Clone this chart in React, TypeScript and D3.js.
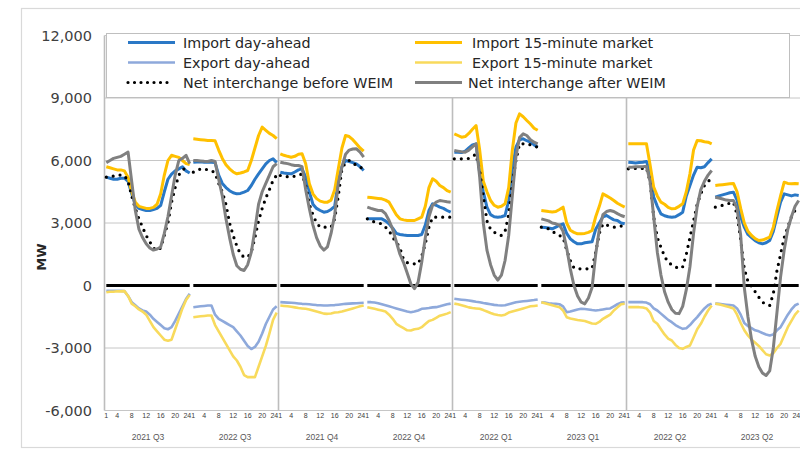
import React from "react";
import * as d3 from "d3";

const quarters = ["2021 Q3", "2022 Q3", "2021 Q4", "2022 Q4", "2022 Q1", "2023 Q1", "2022 Q2", "2023 Q2"];
const hours = [1, 2, 3, 4, 5, 6, 7, 8, 9, 10, 11, 12, 13, 14, 15, 16, 17, 18, 19, 20, 21, 22, 23, 24];
const hourTicks = [1, 4, 8, 12, 16, 20, 24];
const yTicks = [-6000, -3000, 0, 3000, 6000, 9000, 12000];

const importDA = [
  [5200, 5150, 5100, 5100, 5150, 5150, 5000, 4400, 3900, 3700, 3650, 3600, 3600, 3650, 3700, 3850, 4500, 5100, 5350, 5500, 5600, 5700, 5500, 5400],
  [5920, 5930, 5940, 5920, 5920, 5920, 5900, 5300, 4900, 4700, 4550, 4450, 4400, 4420, 4480, 4560, 4800, 5100, 5360, 5600, 5840, 6000, 6080, 5900],
  [5440, 5400, 5380, 5360, 5450, 5550, 5600, 5200, 4500, 3900, 3700, 3600, 3520, 3550, 3650, 3800, 5000, 5700, 6000, 5950, 5900, 5840, 5700, 5520],
  [3200, 3200, 3200, 3200, 3200, 3100, 2960, 2750, 2500, 2450, 2420, 2400, 2400, 2400, 2400, 2450, 2900, 3600, 3920, 3850, 3760, 3700, 3600, 3520],
  [6400, 6400, 6380, 6450, 6600, 6750, 6800, 5400, 4500, 3760, 3400, 3300, 3280, 3300, 3360, 4080, 5600, 6640, 7000, 7040, 6950, 6880, 6750, 6640],
  [2800, 2780, 2760, 2720, 2800, 2900, 2960, 2500, 2240, 2100, 2000, 2000, 2050, 2080, 2100, 2700, 3000, 3300, 3360, 3250, 3150, 3120, 3000, 2960],
  [5920, 5900, 5880, 5900, 5920, 5950, 5500, 4240, 3800, 3440, 3350, 3300, 3280, 3300, 3400, 3520, 4300, 4800, 5300, 5680, 5650, 5700, 5900, 6080],
  [4240, 4300, 4350, 4400, 4450, 4480, 4100, 3300, 2800, 2450, 2300, 2150, 2050, 2000, 2050, 2160, 2600, 3300, 4000, 4400, 4350, 4300, 4350, 4320],
];

const import15 = [
  [5700, 5650, 5600, 5550, 5550, 5500, 5200, 4500, 4000, 3800, 3750, 3700, 3700, 3750, 3900, 4400, 5300, 6000, 6250, 6200, 6150, 6000, 5850, 5800],
  [7040, 7020, 7000, 6980, 6960, 6960, 6950, 6500, 6100, 5800, 5600, 5450, 5360, 5400, 5450, 5520, 6000, 6600, 7200, 7600, 7450, 7300, 7200, 7050],
  [6320, 6250, 6200, 6160, 6200, 6300, 6320, 5840, 4900, 4400, 4170, 4050, 4000, 4000, 4100, 4600, 5600, 6600, 7200, 7150, 7000, 6800, 6600, 6450],
  [4240, 4220, 4200, 4180, 4160, 4100, 4000, 3700, 3400, 3200, 3150, 3120, 3120, 3120, 3200, 3280, 3800, 4700, 5120, 5000, 4800, 4700, 4550, 4480],
  [7280, 7200, 7120, 7150, 7300, 7500, 7680, 6500, 5000, 4500, 4080, 3850, 3760, 3800, 3920, 4700, 6500, 7800, 8240, 8100, 7920, 7750, 7550, 7450],
  [3600, 3580, 3550, 3530, 3550, 3650, 3760, 3000, 2650, 2550, 2480, 2480, 2500, 2550, 2640, 3300, 3800, 4400, 4300, 4200, 4080, 3950, 3850, 3760],
  [6800, 6800, 6800, 6800, 6800, 6800, 5800, 4720, 4300, 4000, 3900, 3750, 3680, 3700, 3800, 3920, 4500, 5360, 6500, 6960, 6950, 6900, 6880, 6800],
  [4800, 4820, 4840, 4860, 4880, 4900, 4500, 3700, 3000, 2600, 2400, 2250, 2160, 2180, 2250, 2320, 2800, 3600, 4300, 4960, 4900, 4880, 4900, 4880],
];

const exportDA = [
  [-250, -250, -250, -250, -260, -270, -500, -800, -950, -1100, -1200, -1250, -1400, -1600, -1750, -1900, -2050, -2100, -2000, -1700, -1350, -1000, -650, -400],
  [-1040, -1020, -1000, -980, -960, -960, -1400, -1600, -1700, -1800, -1900, -2000, -2200, -2400, -2650, -2900, -3050, -2950, -2700, -2300, -1850, -1500, -1150, -1000],
  [-800, -810, -820, -830, -840, -860, -880, -890, -900, -920, -940, -950, -960, -960, -950, -940, -920, -900, -880, -870, -860, -850, -840, -830],
  [-800, -800, -820, -850, -900, -950, -1000, -1050, -1100, -1150, -1200, -1250, -1280, -1250, -1200, -1120, -1100, -1080, -1050, -1040, -1000, -950, -900, -870],
  [-640, -660, -680, -700, -720, -750, -780, -800, -840, -870, -900, -930, -950, -960, -950, -900, -850, -800, -780, -760, -740, -720, -700, -670],
  [-800, -820, -850, -870, -880, -900, -1000, -1280, -1250, -1200, -1150, -1120, -1130, -1150, -1180, -1200, -1180, -1150, -1120, -1100, -1000, -900, -820, -800],
  [-800, -800, -800, -800, -800, -820, -900, -1100, -1200, -1350, -1500, -1650, -1760, -1900, -2000, -2080, -2050, -1900, -1700, -1520, -1300, -1100, -950, -870],
  [-870, -880, -900, -920, -940, -960, -1100, -1400, -1800, -1950, -2050, -2150, -2200, -2280, -2350, -2400, -2350, -2150, -2000, -1700, -1400, -1150, -950, -870],
];

const export15 = [
  [-320, -300, -300, -280, -280, -270, -500, -870, -1000, -1150, -1250, -1400, -1700, -2000, -2200, -2400, -2600, -2650, -2600, -2100, -1600, -1100, -700, -450],
  [-1520, -1500, -1480, -1460, -1440, -1440, -1900, -2200, -2500, -2800, -3100, -3400, -3600, -3900, -4300, -4400, -4400, -4400, -3900, -3400, -2900, -2300, -1650, -1300],
  [-960, -980, -1000, -1020, -1050, -1080, -1100, -1120, -1150, -1200, -1250, -1300, -1350, -1360, -1340, -1300, -1280, -1250, -1200, -1150, -1100, -1050, -1000, -960],
  [-1040, -1080, -1120, -1160, -1200, -1250, -1400, -1600, -1840, -1950, -2050, -2150, -2160, -2100, -2080, -2000, -1850, -1700, -1650, -1550, -1450, -1400, -1350, -1280],
  [-870, -900, -950, -1000, -1050, -1080, -1100, -1120, -1180, -1250, -1320, -1380, -1420, -1440, -1400, -1300, -1250, -1200, -1150, -1100, -1050, -1000, -980, -960],
  [-800, -850, -900, -950, -1000, -1040, -1200, -1520, -1580, -1620, -1660, -1680, -1700, -1760, -1820, -1840, -1750, -1600, -1500, -1400, -1200, -1050, -900, -880],
  [-1040, -1040, -1040, -1040, -1060, -1100, -1300, -1700, -1840, -2100, -2350, -2550, -2640, -2850, -3000, -3040, -2950, -2880, -2500, -2100, -1840, -1500, -1200, -960],
  [-870, -900, -950, -1000, -1040, -1100, -1400, -1800, -2150, -2400, -2600, -2750, -2900, -3100, -3300, -3360, -3250, -3000, -2800, -2400, -2000, -1700, -1400, -1200],
];

const netBefore = [
  [5200, 5250, 5250, 5300, 5300, 5280, 5000, 4300, 3700, 3200, 2800, 2400, 2100, 1800, 1680, 1800, 2400, 3000, 4000, 4700, 5300, 5550, 5650, 5700],
  [5440, 5500, 5600, 5600, 5550, 5520, 5400, 4900, 4500, 3900, 3000, 2400, 1900, 1500, 1360, 1360, 1600, 2300, 3100, 3700, 4200, 4600, 5050, 5300],
  [5280, 5240, 5220, 5200, 5250, 5300, 5350, 4800, 3900, 3400, 3000, 2800, 2800, 2800, 2800, 3200, 4300, 5600, 5900, 6000, 5900, 5750, 5680, 5600],
  [3200, 3100, 3050, 3000, 2960, 2800, 2640, 2300, 2100, 1800, 1250, 1100, 1050, 1040, 1040, 1400, 2000, 2800, 3280, 3280, 3280, 3280, 3280, 3280],
  [6080, 6080, 6080, 6080, 6100, 6200, 6300, 5500, 4300, 3100, 2700, 2560, 2450, 2400, 2600, 3400, 4900, 6000, 6800, 6800, 6800, 6750, 6700, 6640],
  [2800, 2780, 2720, 2600, 2500, 2400, 2320, 1700, 1200, 850, 800, 800, 800, 800, 820, 1600, 2500, 2960, 2900, 2850, 2800, 2800, 2850, 2900],
  [5600, 5600, 5620, 5620, 5620, 5650, 5000, 3300, 2300, 1840, 1400, 1100, 1000, 900, 800, 900, 1500, 2300, 3100, 3900, 4400, 4800, 5000, 5120],
  [3760, 3800, 3850, 3900, 3950, 4000, 3400, 2200, 800, 200, -50, -300, -560, -800, -900, -960, -400, 700, 1500, 2300, 2800, 3300, 3600, 3800],
];

const netAfter = [
  [5900, 6000, 6100, 6150, 6200, 6300, 6400, 5000, 3600, 2700, 2300, 2000, 1800, 1700, 1750, 1850, 2500, 3300, 4300, 5300, 6000, 6100, 6250, 5850],
  [6000, 6000, 5980, 5960, 5950, 6000, 5950, 5100, 4300, 3200, 2300, 1500, 950, 780, 720, 1000, 1600, 2700, 3900, 4500, 4900, 5300, 5700, 5850],
  [5920, 5880, 5850, 5800, 5760, 5760, 5700, 4600, 3700, 2900, 2300, 1900, 1700, 1850, 2500, 3400, 4900, 5700, 6300, 6500, 6550, 6560, 6400, 6160],
  [3760, 3700, 3650, 3600, 3600, 3450, 3120, 2700, 2100, 1500, 1100, 600, 80, -150, 150, 1100, 2300, 3300, 3850, 4000, 4080, 4050, 4020, 4000],
  [6480, 6450, 6420, 6400, 6500, 6650, 6800, 5200, 3000, 1700, 1000, 500, 260, 500, 1200, 2400, 4300, 6200, 7100, 7280, 7200, 7000, 6880, 6800],
  [3200, 3150, 3100, 3000, 2960, 2900, 2600, 1800, 800, 0, -500, -800, -880, -600, -100, 1500, 2700, 3400, 3550, 3600, 3550, 3450, 3360, 3300],
  [5680, 5680, 5700, 5700, 5700, 5720, 5000, 3300, 1600, 500, -300, -800, -1150, -1330, -1350, -1000, -200, 900, 2500, 3800, 4600, 5000, 5300, 5520],
  [4240, 4200, 4150, 4100, 4080, 4080, 3700, 2400, -100, -1500, -2600, -3400, -3900, -4200, -4320, -4100, -3000, -1300, 400, 1700, 2700, 3300, 3800, 4080],
];

const zeroLine = [0, 0, 0, 0, 0, 0, 0, 0, 0, 0, 0, 0, 0, 0, 0, 0, 0, 0, 0, 0, 0, 0, 0, 0];

type S = { name: string; data: number[][]; color: string; width: number; dash?: string };
const series: S[] = [
  { name: "Import day-ahead", data: importDA, color: "#2A78C6", width: 3 },
  { name: "Import 15-minute market", data: import15, color: "#FFC000", width: 3 },
  { name: "Export day-ahead", data: exportDA, color: "#8EA9DB", width: 2.6 },
  { name: "Export 15-minute market", data: export15, color: "#F8DA5C", width: 2.6 },
  { name: "Net interchange before WEIM", data: netBefore, color: "#000000", width: 3.2, dash: "0 7" },
  { name: "Net interchange after WEIM", data: netAfter, color: "#808080", width: 3 },
];

const W = 800;
const H = 452;
const L = 104.5;
const R = 800.5;
const T = 35.5;
const B = 410.5;
const nCat = quarters.length * hours.length;

const x = d3.scaleLinear().domain([0, nCat]).range([L, R]);
const y = d3.scaleLinear().domain([-6000, 12000]).range([B, T]);
const px = (g: number, h: number) => x(g * hours.length + h - 0.5);
const fmt = (v: number) => d3.format(",")(v).replace("\u2212", "-");

const lineGen = (g: number) =>
  d3
    .line<number>()
    .x((_, i) => px(g, hours[i]))
    .y((d) => y(d))
    .curve(d3.curveLinear);

const FONT = "'DejaVu Sans', Verdana, sans-serif";

export default function App() {
  const legendRows = [
    [series[0], series[1]],
    [series[2], series[3]],
    [series[4], series[5]],
  ];
  const legendY = [42.5, 62.5, 82.5];
  const legendX = [128, 415];
  return (
    <svg
      width={W}
      height={H}
      viewBox={`0 0 ${W} ${H}`}
      style={{ position: "absolute", left: 0, top: 0, background: "#fff" }}
    >
      <rect x={0} y={0} width={W} height={H} fill="#fff" />
      <rect x={21.5} y={8.5} width={W} height={439} fill="none" stroke="#D9D9D9" strokeWidth={1.2} />

      {/* horizontal gridlines */}
      {yTicks.filter((v) => v !== 0).map((v) => (
        <line key={v} x1={L} x2={R} y1={y(v)} y2={y(v)} stroke="#C6C6C6" strokeWidth={1} />
      ))}
      {/* left axis and group separators */}
      {[0, 2, 4, 6].map((g) => (
        <line key={g} x1={x(g * hours.length)} x2={x(g * hours.length)} y1={T} y2={B} stroke="#BDBDBD" strokeWidth={1.6} />
      ))}

      {/* zero line per quarter */}
      {quarters.map((q, g) => (
        <path key={q} d={lineGen(g)(zeroLine) || ""} fill="none" stroke="#000" strokeWidth={3} />
      ))}

      {series.map((s) =>
        s.data.map((arr, g) => (
          <path
            key={s.name + g}
            d={lineGen(g)(arr) || ""}
            fill="none"
            stroke={s.color}
            strokeWidth={s.width}
            strokeDasharray={s.dash}
            strokeLinecap={s.dash ? "round" : "butt"}
            strokeLinejoin="round"
          />
        ))
      )}

      {/* y tick labels */}
      {yTicks.map((v) => (
        <text key={v} x={92} y={y(v)} dy="0.36em" textAnchor="end" fontFamily={FONT} fontSize={14.5} fill="#404040">
          {fmt(v)}
        </text>
      ))}
      <text
        transform={`translate(46,257) rotate(-90)`}
        textAnchor="middle"
        fontFamily={FONT}
        fontSize={13}
        fontWeight="bold"
        fill="#262626"
      >
        MW
      </text>

      {/* x tick labels */}
      {quarters.map((q, g) => (
        <g key={q}>
          {hourTicks.map((h) => (
            <text
              key={h}
              x={h === 24 ? px(g, h) + 1.5 : px(g, h)}
              y={418}
              textAnchor={h === 24 ? "end" : "middle"}
              fontFamily="'Liberation Sans', Arial, sans-serif"
              fontSize={7}
              fill="#404040"
            >
              {h}
            </text>
          ))}
          <text
            x={x(g * hours.length + hours.length / 2)}
            y={440}
            textAnchor="middle"
            fontFamily="'Liberation Sans', Arial, sans-serif"
            fontSize={8.5}
            fill="#595959"
          >
            {q}
          </text>
        </g>
      ))}

      {/* legend */}
      <rect x={106.5} y={33.5} width={683} height={64} fill="#fff" stroke="#BFBFBF" strokeWidth={1} />
      {legendRows.map((row, ri) =>
        row.map((s, ci) => (
          <g key={s.name}>
            <line
              x1={legendX[ci]}
              x2={legendX[ci] + (s.dash ? 44 : 47)}
              y1={legendY[ri]}
              y2={legendY[ri]}
              stroke={s.color}
              strokeWidth={s.width}
              strokeDasharray={s.dash ? "0 6.5" : undefined}
              strokeLinecap={s.dash ? "round" : "butt"}
            />
            <text
              x={legendX[ci] + (ci === 0 ? 55 : ri === 2 ? 53 : 57)}
              y={legendY[ri]}
              dy="0.35em"
              fontFamily={FONT}
              fontSize={14.3}
              fill="#262626"
            >
              {s.name}
            </text>
          </g>
        ))
      )}
    </svg>
  );
}
